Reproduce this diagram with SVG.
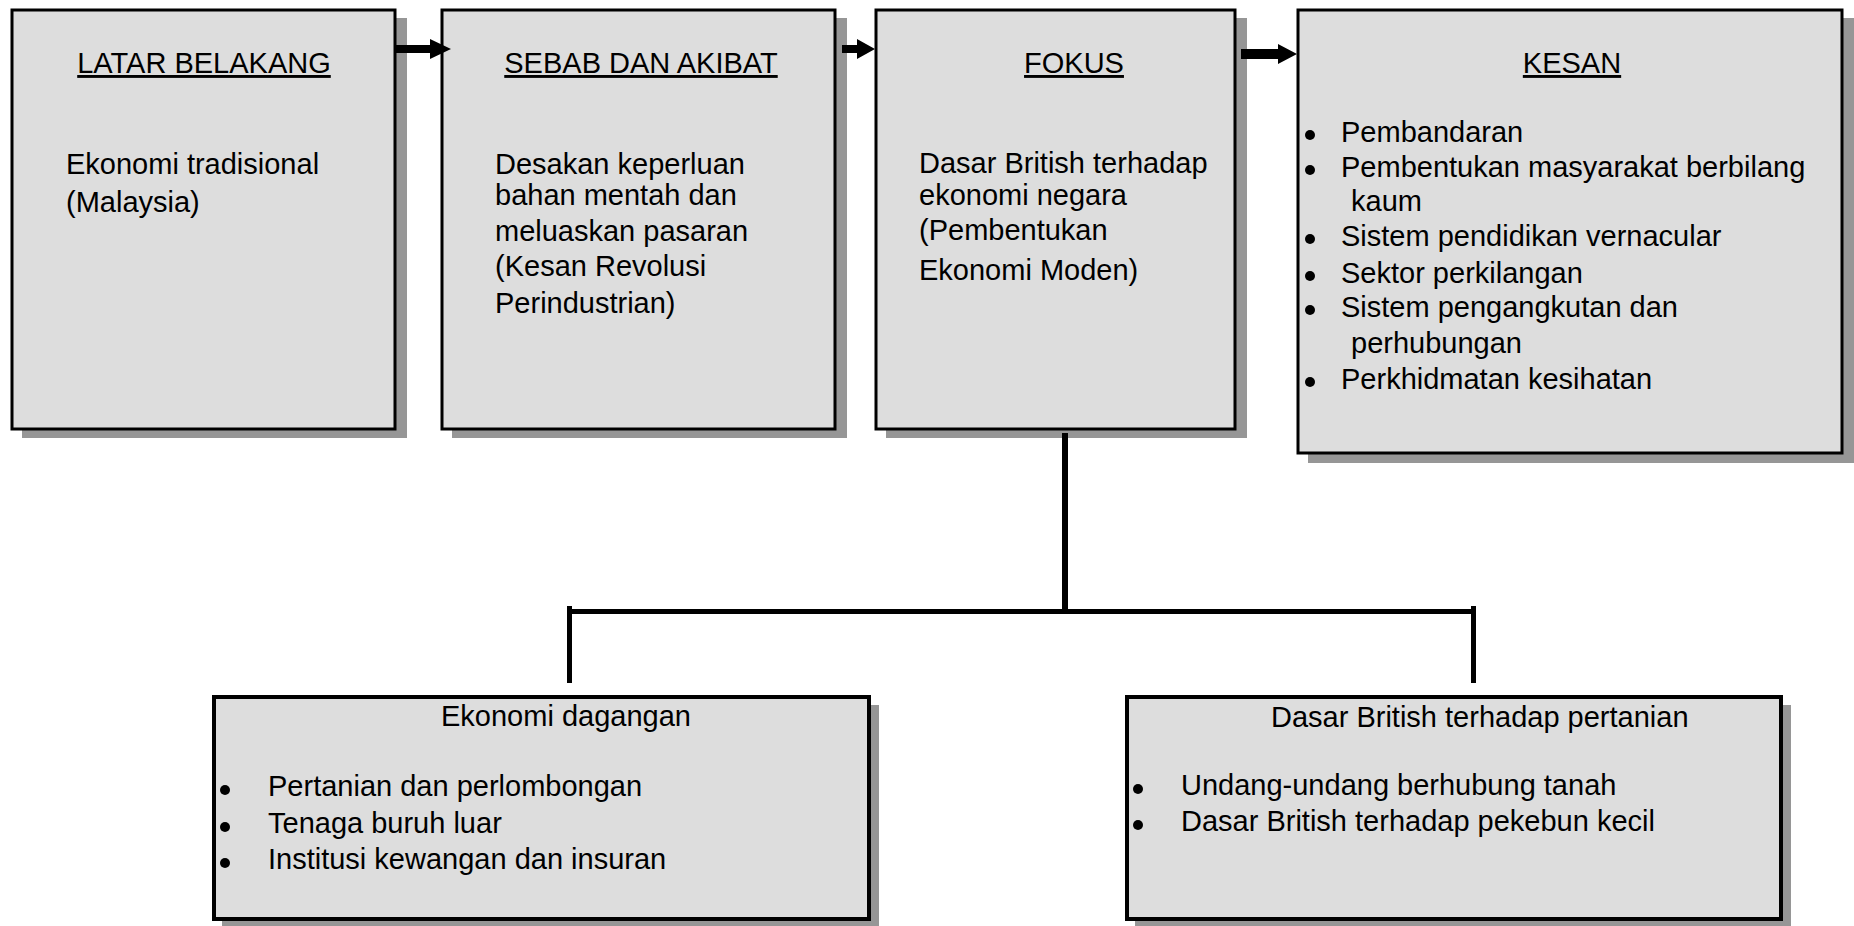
<svg xmlns="http://www.w3.org/2000/svg" width="1854" height="926" viewBox="0 0 1854 926">
<style>
.bg{fill:#ffffff}
.sh{fill:#969696}
.box{fill:#dddddd;stroke:#000;stroke-width:3}
.box2{fill:#dddddd;stroke:#000;stroke-width:4}
text{font-family:"Liberation Sans",Arial,sans-serif;font-size:29px;fill:#000}
.ttl{text-anchor:middle;text-decoration:underline}
.dot{fill:#000}
.ln{stroke:#000;stroke-width:5;fill:none;stroke-linecap:butt}
.arr{fill:#000}
</style>
<rect class="bg" x="0" y="0" width="1854" height="926"/>
<g id="latar-belakang">
<rect class="sh" x="22" y="18" width="385" height="420"/>
<rect class="box" x="12" y="10" width="383" height="419"/>
<text class="ttl" x="204" y="73">LATAR BELAKANG</text>
<text x="66" y="174">Ekonomi tradisional</text>
<text x="66" y="212">(Malaysia)</text>
</g>
<g id="sebab-akibat">
<rect class="sh" x="452" y="18" width="395" height="420"/>
<rect class="box" x="442" y="10" width="393" height="419"/>
<text class="ttl" x="641" y="73">SEBAB DAN AKIBAT</text>
<text x="495" y="174">Desakan keperluan</text>
<text x="495" y="205">bahan mentah dan</text>
<text x="495" y="241">meluaskan pasaran</text>
<text x="495" y="276">(Kesan Revolusi</text>
<text x="495" y="313">Perindustrian)</text>
</g>
<g id="fokus">
<rect class="sh" x="886" y="18" width="361" height="420"/>
<rect class="box" x="876" y="10" width="359" height="419"/>
<text class="ttl" x="1074" y="73">FOKUS</text>
<text x="919" y="173">Dasar British terhadap</text>
<text x="919" y="205">ekonomi negara</text>
<text x="919" y="240">(Pembentukan</text>
<text x="919" y="280">Ekonomi Moden)</text>
</g>
<g id="kesan">
<rect class="sh" x="1308" y="18" width="546" height="445"/>
<rect class="box" x="1298" y="10" width="544" height="443"/>
<text class="ttl" x="1572" y="73">KESAN</text>
<circle class="dot" cx="1310" cy="135" r="5"/>
<text x="1341" y="142">Pembandaran</text>
<circle class="dot" cx="1310" cy="170" r="5"/>
<text x="1341" y="177">Pembentukan masyarakat berbilang</text>
<text x="1351" y="211">kaum</text>
<circle class="dot" cx="1310" cy="239" r="5"/>
<text x="1341" y="246">Sistem pendidikan vernacular</text>
<circle class="dot" cx="1310" cy="276" r="5"/>
<text x="1341" y="283">Sektor perkilangan</text>
<circle class="dot" cx="1310" cy="310" r="5"/>
<text x="1341" y="317">Sistem pengangkutan dan</text>
<text x="1351" y="353">perhubungan</text>
<circle class="dot" cx="1310" cy="382" r="5"/>
<text x="1341" y="389">Perkhidmatan kesihatan</text>
</g>
<g id="ekonomi-dagangan">
<rect class="sh" x="222" y="705" width="657" height="221"/>
<rect class="box2" x="214" y="697" width="655" height="222"/>
<text x="441" y="726">Ekonomi dagangan</text>
<circle class="dot" cx="225" cy="790" r="5"/>
<text x="268" y="796">Pertanian dan perlombongan</text>
<circle class="dot" cx="225" cy="827" r="5"/>
<text x="268" y="833">Tenaga buruh luar</text>
<circle class="dot" cx="225" cy="863" r="5"/>
<text x="268" y="869">Institusi kewangan dan insuran</text>
</g>
<g id="dasar-pertanian">
<rect class="sh" x="1135" y="705" width="656" height="221"/>
<rect class="box2" x="1127" y="697" width="654" height="222"/>
<text x="1271" y="727">Dasar British terhadap pertanian</text>
<circle class="dot" cx="1138" cy="789" r="5"/>
<text x="1181" y="795">Undang-undang berhubung tanah</text>
<circle class="dot" cx="1138" cy="825" r="5"/>
<text x="1181" y="831">Dasar British terhadap pekebun kecil</text>
</g>
<g id="connectors">
<polygon class="arr" points="394,45 430,45 430,39 451,49 430,59 430,53 394,53"/>
<polygon class="arr" points="842,45 857,45 857,39 875,49 857,59 857,53 842,53"/>
<polygon class="arr" points="1241,49 1278,49 1278,44 1297,54 1278,64 1278,59 1241,59"/>
<line class="ln" x1="1065" y1="433" x2="1065" y2="614" style="stroke-width:6"/>
<line class="ln" x1="567" y1="611.5" x2="1476" y2="611.5"/>
<line class="ln" x1="569.5" y1="606" x2="569.5" y2="683"/>
<line class="ln" x1="1473.5" y1="606" x2="1473.5" y2="683"/>
</g>
</svg>
